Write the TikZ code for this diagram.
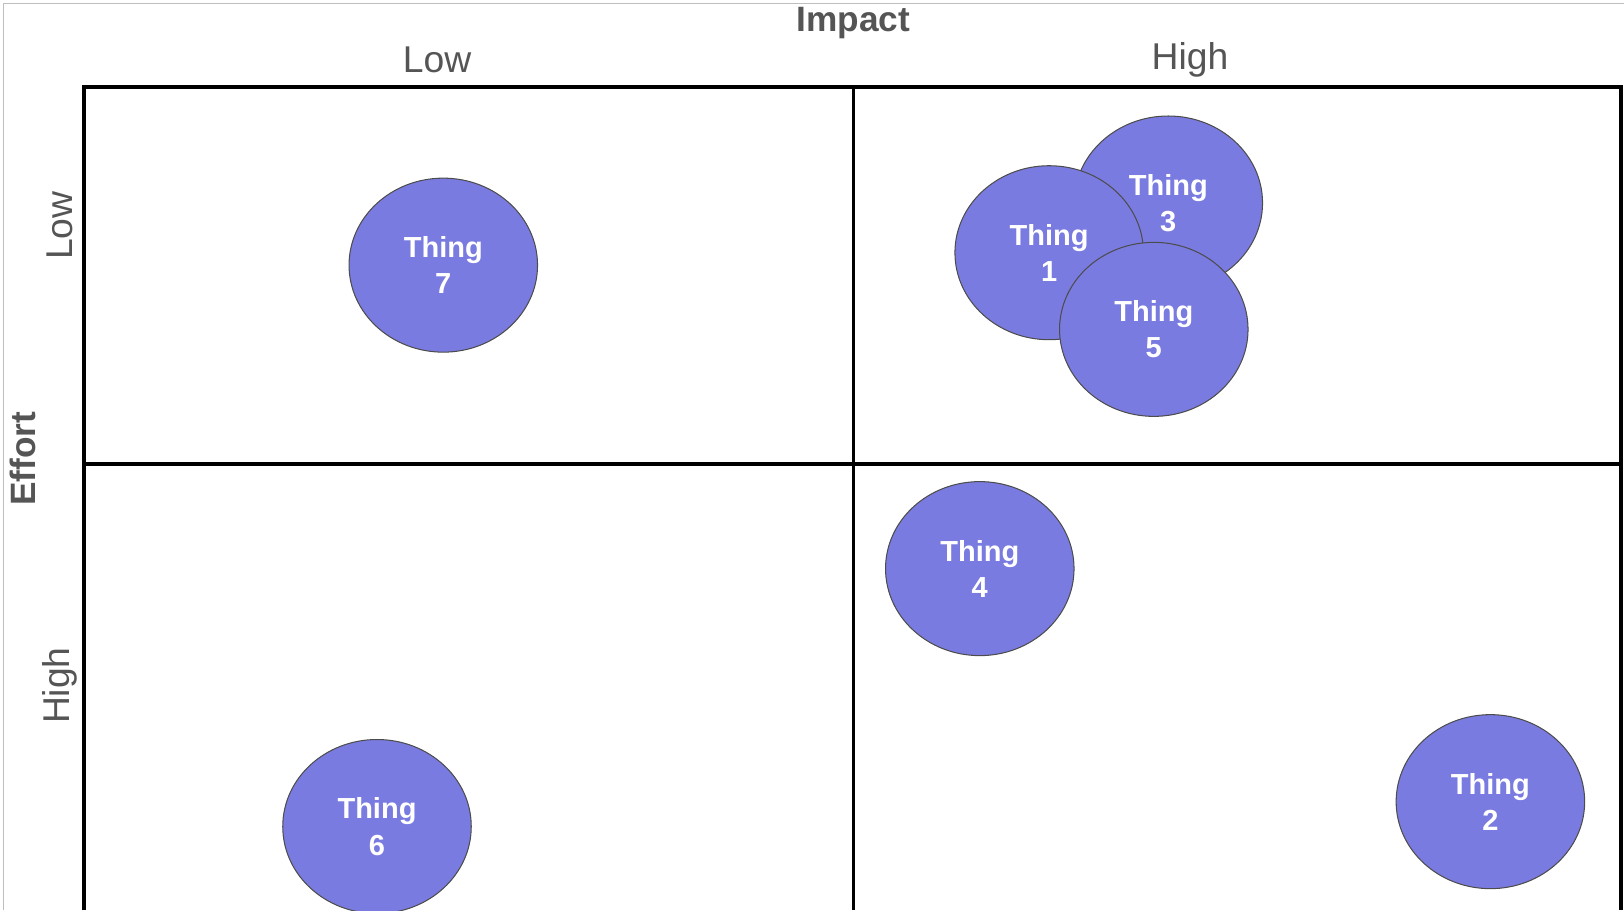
\documentclass[tikz,border=0pt]{standalone}
\usepackage{fontspec}
\setmainfont{Liberation Sans}
\definecolor{thing}{HTML}{7A7BE0}
\definecolor{lbl}{HTML}{555555}
\begin{document}
\begin{tikzpicture}[x=1pt,y=-1pt,
  thing/.style={ellipse,draw=black!70,line width=1pt,fill=thing,minimum width=182pt,minimum height=168pt,inner sep=0pt,align=center,text=white,font=\fontsize{28}{35}\selectfont\bfseries},
  grid/.style={line width=3.5pt,black},
  ax/.style={text=lbl,font=\fontsize{36}{40}\selectfont},
  axb/.style={text=lbl,font=\fontsize{34}{40}\selectfont\bfseries}]
\useasboundingbox (0,0) rectangle (1568,879);
\draw[black!25,line width=1pt] (3,879) -- (3,3) -- (1568,3);
\draw[grid] (81,879) -- (81,84) -- (1565,84) -- (1565,879);
\draw[grid] (824,84) -- (824,879);
\draw[grid] (81,448) -- (1565,448);
\usetikzlibrary{shapes.geometric}
\node[axb] (impact) at (824,22) {Impact};
\node[ax] (il) at (422,58) {Low};
\node[ax] (ih) at (1149,58) {High};
\node[axb,rotate=90] (effort) at (22,443) {Effort};
\node[ax,rotate=90] (el) at (58,218) {Low};
\node[ax,rotate=90] (eh) at (58,662) {High};
\node[thing] (t7) at (428,256) {Thing\\7};
\node[thing] (t3) at (1128,196) {Thing\\3};
\node[thing] (t1) at (1013,244) {Thing\\1};
\node[thing] (t5) at (1114,318) {Thing\\5};
\node[thing] (t4) at (946,549) {Thing\\4};
\node[thing] (t2) at (1439,774) {Thing\\2};
\node[thing] (t6) at (364,798) {Thing\\6};
\end{tikzpicture}
\end{document}
